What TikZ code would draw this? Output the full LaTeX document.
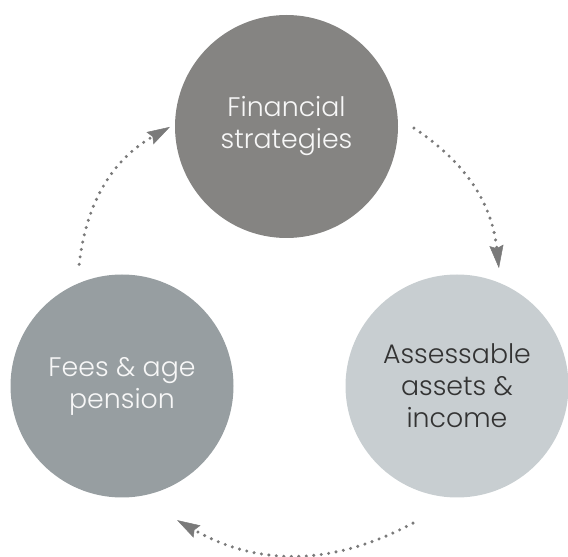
\documentclass[tikz,border=0pt]{standalone}
\usepackage{fontspec}
\setmainfont{Poppins}[UprightFont={* Light}]
\usetikzlibrary{arrows.meta,calc}
\definecolor{topgrey}{HTML}{858482}
\definecolor{leftgrey}{HTML}{979EA1}
\definecolor{rightgrey}{HTML}{C8CED1}
\definecolor{arrowgrey}{HTML}{7A7A7A}
\definecolor{darktext}{HTML}{333333}
\definecolor{lighttext}{HTML}{F7F7F7}
\tikzset{
  bubble/.style={circle, inner sep=0pt, minimum size=223pt, align=center,
    font=\fontsize{26.8}{32}\selectfont},
  cyclearrow/.style={draw=arrowgrey, line width=3.4pt, line cap=round,
    dash pattern=on 0pt off 7.5pt,
    -{Stealth[length=23pt,width=14pt,inset=3pt,line width=0.5pt,fill=arrowgrey]}},
}
\begin{document}
\begin{tikzpicture}[x=1pt,y=1pt]
\useasboundingbox (0,0) rectangle (568,557);
\node[bubble, fill=topgrey, text=lighttext] (fin) at (286.5,430.5) {Financial\\strategies};
\node[bubble, fill=leftgrey, text=lighttext] (fees) at (122,171) {Fees \& age\\pension};
\node[bubble, fill=rightgrey, text=darktext] (ass) at (457,171) {Assessable\\assets \&\\income};
\draw[cyclearrow] ($(fin.center)+(-0.7:127.5)$) to[bend left=25] ($(ass.center)+(70.4:125)$);
\draw[cyclearrow] ($(ass.center)+(252.2:144)$) to[bend left=29] ($(fees.center)+(-67.7:145)$);
\draw[cyclearrow] ($(fees.center)+(109.4:129)$) to[bend left=27] ($(fin.center)+(180.2:116.5)$);
\end{tikzpicture}
\end{document}
